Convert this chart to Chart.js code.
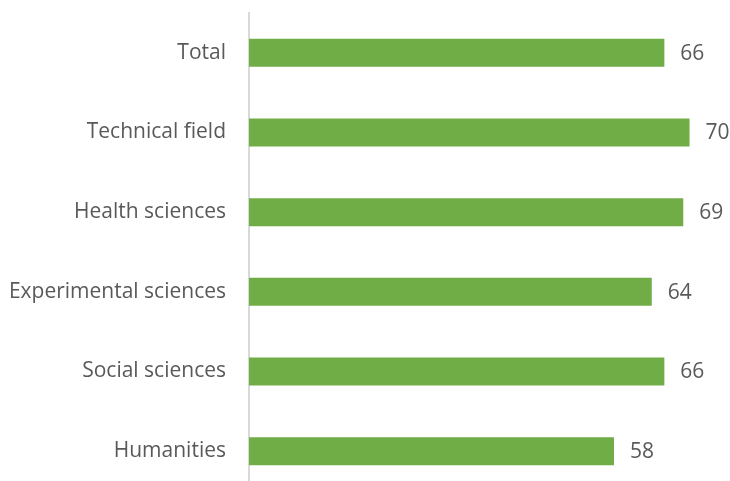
<!DOCTYPE html>
<html>
<head>
<meta charset="utf-8">
<script src="https://cdn.jsdelivr.net/npm/chart.js@4.4.0/dist/chart.umd.min.js"></script>
<style>
  html, body { margin: 0; padding: 0; background: #fff; overflow: hidden; }
  #wrap { width: 730px; height: 491px; }
</style>
</head>
<body>
<div id="wrap"><canvas id="grafico" width="730" height="491"></canvas></div>
<script>
const categorias = ["Total", "Technical field", "Health sciences", "Experimental sciences", "Social sciences", "Humanities"];
const valores = [66, 70, 69, 64, 66, 58];

const FUENTE = "'Open Sans', sans-serif";
const GRIS = "#595959";

// etiquetas de valor a la derecha de cada barra
const etiquetasValor = {
  id: "etiquetasValor",
  afterDatasetsDraw(chart) {
    const ctx = chart.ctx;
    const meta = chart.getDatasetMeta(0);
    ctx.save();
    ctx.font = "21px " + FUENTE;
    ctx.fillStyle = GRIS;
    ctx.textAlign = "left";
    ctx.textBaseline = "middle";
    meta.data.forEach((bar, i) => {
      ctx.fillText(String(valores[i]), bar.x + 16, bar.y + 1);
    });
    ctx.restore();
  }
};

new Chart(document.getElementById("grafico"), {
  type: "bar",
  data: {
    labels: categorias,
    datasets: [{
      data: valores,
      backgroundColor: "#70AD47",
      borderWidth: 0,
      categoryPercentage: 1,
      barPercentage: 0.352
    }]
  },
  options: {
    indexAxis: "y",
    responsive: false,
    animation: false,
    devicePixelRatio: 1,
    layout: { padding: { top: 13, right: 9, bottom: 0, left: 0 } },
    plugins: { legend: { display: false }, tooltip: { enabled: false } },
    scales: {
      x: { display: false, min: 0, max: 75 },
      y: {
        grid: { display: false, tickLength: 23 },
        border: { display: true, color: "#d9d9d9", width: 2 },
        ticks: { color: GRIS, font: { family: FUENTE, size: 21 }, padding: 0 },
        afterFit(scale) {
          scale.width = 249;
          scale.paddingTop = 0;
          scale.paddingBottom = 0;
        }
      }
    }
  },
  plugins: [etiquetasValor]
});
</script>
</body>
</html>
